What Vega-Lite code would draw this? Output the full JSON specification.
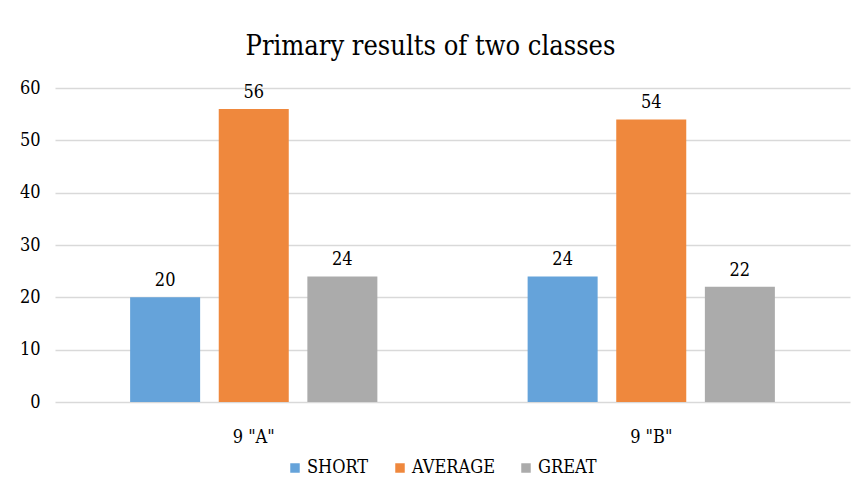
{
  "$schema": "https://vega.github.io/schema/vega-lite/v6.json",
  "width": 795,
  "height": 314,
  "autosize": "none",
  "padding": {"left": 55, "top": 88, "right": 13, "bottom": 91},
  "background": "white",
  "title": {"text": "Primary results of two classes", "font": "DejaVu Serif Condensed", "fontSize": 27, "fontWeight": "normal", "color": "#000000", "anchor": "middle", "dx": -22, "offset": 18},
  "data": {"values": [
    {"class": "9 \"A\"", "level": "SHORT", "value": 20},
    {"class": "9 \"A\"", "level": "AVERAGE", "value": 56},
    {"class": "9 \"A\"", "level": "GREAT", "value": 24},
    {"class": "9 \"B\"", "level": "SHORT", "value": 24},
    {"class": "9 \"B\"", "level": "AVERAGE", "value": 54},
    {"class": "9 \"B\"", "level": "GREAT", "value": 22}
  ]},
  "encoding": {
    "x": {"field": "class", "type": "nominal", "sort": null, "title": null,
      "scale": {"paddingInner": 0.378, "paddingOuter": 0.189},
      "axis": {"labelAngle": 0, "labelFont": "DejaVu Serif Condensed", "labelFontSize": 18, "labelColor": "#000000", "labelPadding": 26, "ticks": false, "domain": false, "grid": false}},
    "xOffset": {"field": "level", "type": "nominal", "sort": ["SHORT", "AVERAGE", "GREAT"], "scale": {"paddingInner": 0.21, "paddingOuter": 0}},
    "y": {"field": "value", "type": "quantitative", "title": null,
      "scale": {"domain": [0, 60], "nice": false},
      "axis": {"values": [0, 10, 20, 30, 40, 50, 60], "labelFont": "DejaVu Serif Condensed", "labelFontSize": 18, "labelColor": "#000000", "labelPadding": 15, "ticks": false, "domain": false, "gridColor": "#D9D9D9", "gridWidth": 1.3}}
  },
  "layer": [
    {"mark": {"type": "bar"},
      "encoding": {"color": {"field": "level", "type": "nominal", "sort": ["SHORT", "AVERAGE", "GREAT"], "title": null,
        "scale": {"domain": ["SHORT", "AVERAGE", "GREAT"], "range": ["#65A3DA", "#EF883D", "#ABABAB"]},
        "legend": {"orient": "none", "legendX": 231, "legendY": 371, "direction": "horizontal", "symbolType": "square", "symbolSize": 90, "symbolStrokeWidth": 0, "labelFont": "DejaVu Serif Condensed", "labelFontSize": 18, "labelColor": "#000000", "columnPadding": 22, "labelOffset": 3}}}},
    {"mark": {"type": "text", "baseline": "bottom", "dy": -7, "font": "DejaVu Serif Condensed", "fontSize": 18, "color": "#000000"},
      "encoding": {"text": {"field": "value", "type": "quantitative"}}}
  ],
  "config": {"view": {"stroke": null}}
}
